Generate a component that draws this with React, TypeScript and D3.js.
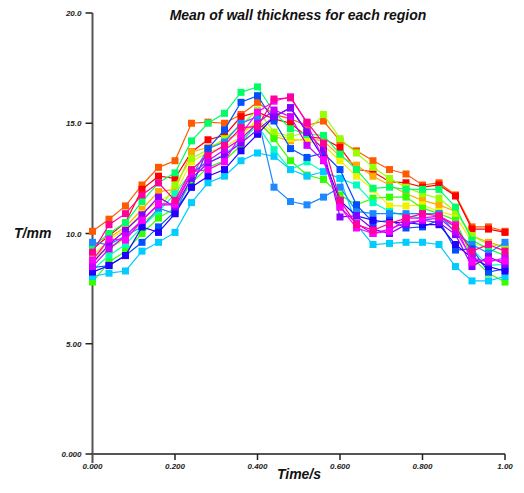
import React from "react";
import * as d3 from "d3";

const times: number[] = [0, 0.04, 0.08, 0.12, 0.16, 0.2, 0.24, 0.28, 0.32, 0.36, 0.4, 0.44, 0.48, 0.52, 0.56, 0.6, 0.64, 0.68, 0.72, 0.76, 0.8, 0.84, 0.88, 0.92, 0.96, 1.0];

const regionNames: string[] = ["R1","R2","R3","R4","R5","R6","R7","R8","R9","R10","R11","R12","R13","R14","R15","R16"];
const regionColors: string[] = ["#ff5a00","#ff0000","#ffaa00","#f0f000","#99ff00","#33ff00","#00ff66","#00ffbb","#00ccff","#1e88ff","#0050ff","#2200ff","#8800ff","#cc00ff","#ff00ff","#ff0099"];

const r1 = [10.1, 10.65, 11.25, 12.2, 13.0, 13.3, 15.0, 15.05, 15.0, 15.4, 15.95, 15.4, 15.2, 14.9, 15.1, 14.2, 13.75, 13.3, 12.9, 12.7, 12.2, 12.3, 11.75, 10.3, 10.3, 10.1];
const r2 = [9.3, 9.9, 10.5, 12.0, 12.6, 12.5, 13.7, 14.25, 14.45, 15.3, 15.5, 15.2, 15.0, 14.4, 14.3, 13.9, 12.9, 12.8, 12.35, 12.3, 12.1, 12.2, 11.7, 10.2, 10.2, 10.05];
const r3 = [8.6, 9.8, 10.3, 11.1, 11.9, 12.0, 13.7, 13.9, 14.2, 14.6, 15.0, 14.4, 14.2, 14.3, 14.2, 13.5, 13.1, 12.6, 12.2, 11.8, 11.5, 11.3, 11.0, 9.9, 9.6, 9.4];
const r4 = [9.0, 9.7, 10.2, 10.9, 11.5, 11.8, 13.25, 13.7, 13.9, 14.4, 15.2, 14.5, 14.3, 14.2, 14.0, 13.3, 12.6, 12.0, 11.25, 11.25, 11.3, 11.0, 10.8, 9.6, 9.3, 9.0];
const r5 = [8.9, 9.3, 9.8, 10.5, 11.0, 12.2, 13.4, 13.8, 14.3, 14.9, 15.6, 14.6, 14.4, 14.6, 15.4, 14.3, 13.65, 13.0, 12.5, 12.1, 11.8, 11.6, 11.0, 9.9, 9.5, 9.4];
const r6 = [7.8, 8.7, 9.2, 10.0, 10.7, 11.15, 12.3, 13.0, 13.3, 14.0, 15.15, 14.3, 13.3, 12.65, 12.45, 11.75, 11.3, 11.6, 11.65, 11.65, 11.15, 10.9, 10.6, 8.9, 8.2, 7.8];
const r7 = [9.4, 10.0, 10.5, 11.45, 12.3, 12.75, 14.2, 15.0, 15.45, 16.4, 16.65, 15.5, 14.75, 14.5, 14.45, 13.6, 12.9, 12.05, 12.1, 12.0, 12.0, 12.0, 11.2, 9.7, 9.3, 9.0];
const r8 = [8.35, 9.0, 9.5, 10.3, 11.0, 11.8, 12.8, 13.2, 13.6, 14.2, 14.9, 13.8, 12.9, 13.25, 12.8, 12.5, 12.2, 11.4, 11.0, 10.8, 10.7, 10.7, 10.3, 9.3, 8.55, 8.6];
const r9 = [8.05, 8.2, 8.3, 9.2, 9.6, 10.05, 11.4, 12.3, 12.6, 13.3, 13.65, 13.5, 12.9, 12.6, 12.8, 12.5, 10.4, 9.5, 9.55, 9.6, 9.6, 9.5, 8.5, 7.85, 7.85, 8.05];
const r10 = [9.6, 9.5, 9.9, 10.3, 11.15, 10.9, 12.6, 13.85, 14.15, 15.0, 15.3, 12.1, 11.45, 11.3, 11.65, 12.1, 11.0, 10.9, 10.9, 10.9, 10.9, 10.9, 10.0, 9.5, 9.1, 9.6];
const r11 = [8.45, 8.55, 9.0, 9.6, 10.3, 11.0, 12.1, 13.85, 14.7, 15.95, 16.25, 15.1, 13.85, 13.45, 13.65, 12.9, 11.3, 10.5, 10.6, 10.25, 10.3, 10.6, 9.25, 9.3, 8.25, 8.4];
const r12 = [8.25, 8.55, 9.0, 10.3, 10.05, 10.9, 12.1, 12.6, 12.9, 13.75, 14.5, 15.3, 15.7, 14.6, 13.4, 11.5, 10.8, 10.6, 10.5, 10.5, 10.4, 10.4, 9.5, 8.9, 8.5, 8.3];
const r13 = [8.65, 9.5, 10.15, 10.85, 11.65, 11.2, 12.5, 13.2, 13.55, 14.1, 14.7, 15.3, 15.7, 14.6, 13.8, 10.75, 10.8, 10.2, 10.0, 10.4, 10.6, 10.5, 9.95, 8.5, 8.95, 8.6];
const r14 = [8.5, 9.3, 9.9, 10.6, 11.3, 11.3, 12.7, 13.3, 13.8, 14.3, 15.0, 15.6, 15.3, 14.0, 13.3, 11.2, 10.45, 10.0, 10.2, 10.5, 10.6, 10.7, 10.1, 8.9, 8.7, 8.9];
const r15 = [8.8, 9.75, 9.7, 10.6, 11.35, 11.35, 12.8, 12.9, 13.25, 14.5, 15.5, 16.0, 16.2, 15.0, 13.35, 11.2, 10.25, 10.0, 10.1, 10.7, 10.7, 10.8, 10.4, 8.7, 8.8, 8.75];
const r16 = [9.15, 10.4, 10.9, 11.75, 12.3, 11.5, 12.9, 13.55, 14.0, 14.8, 14.85, 16.1, 16.15, 15.05, 14.1, 11.5, 10.4, 10.15, 10.45, 10.7, 10.9, 10.8, 10.3, 9.2, 9.5, 9.2];

const seriesValues: number[][] = [r1, r2, r3, r4, r5, r6, r7, r8, r9, r10, r11, r12, r13, r14, r15, r16];

const yTicks: number[] = [0, 5, 10, 15, 20];
const yTickLabels: string[] = ["0.000", "5.00", "10.0", "15.0", "20.0"];
const xTicks: number[] = [0, 0.2, 0.4, 0.6, 0.8, 1.0];
const xTickLabels: string[] = ["0.000", "0.200", "0.400", "0.600", "0.800", "1.00"];

const W = 524;
const H = 493;
const left = 92.5;
const right = 505;
const top = 13;
const bottom = 454;
const FONT = "'Liberation Sans', Arial, sans-serif";

export default function App() {
  const x = d3.scaleLinear().domain([0, 1]).range([left, right]);
  const y = d3.scaleLinear().domain([0, 20]).range([bottom, top]);
  const line = d3
    .line<[number, number]>()
    .x((d) => x(d[0]))
    .y((d) => y(d[1]));
  const ms = 7;
  const axisColor = "#555";

  return (
    <svg
      width={W}
      height={H}
      style={{ position: "absolute", left: 0, top: 0, background: "#fff" }}
    >
      <rect x={0} y={0} width={W} height={H} fill="#fff" />
      <text
        x={298}
        y={20}
        textAnchor="middle"
        fontFamily={FONT}
        fontStyle="italic"
        fontWeight={600}
        fontSize={14}
        fill="#111"
      >
        Mean of wall thickness for each region
      </text>

      {/* y axis */}
      <line x1={left} x2={left} y1={top} y2={bottom + 9} stroke={axisColor} strokeWidth={2} />
      {yTicks.map((t, i) => (
        <g key={"yt" + i}>
          <line x1={left - 7} x2={left} y1={y(t)} y2={y(t)} stroke="#222" strokeWidth={1.5} />
          <text
            x={left - 11}
            y={y(t) + 3}
            textAnchor="end"
            fontFamily={FONT}
            fontStyle="italic"
            fontWeight={700}
            fontSize={8}
            fill="#222"
          >
            {yTickLabels[i]}
          </text>
        </g>
      ))}

      {/* x axis */}
      <line x1={left} x2={right} y1={bottom} y2={bottom} stroke={axisColor} strokeWidth={2} />
      {xTicks.map((t, i) => (
        <g key={"xt" + i}>
          {i > 0 && (
            <line x1={x(t)} x2={x(t)} y1={bottom} y2={bottom + 6} stroke="#222" strokeWidth={1.5} />
          )}
          <text
            x={x(t)}
            y={bottom + 15}
            textAnchor="middle"
            fontFamily={FONT}
            fontStyle="italic"
            fontWeight={700}
            fontSize={8}
            fill="#222"
          >
            {xTickLabels[i]}
          </text>
        </g>
      ))}

      <text
        x={14}
        y={238}
        fontFamily={FONT}
        fontStyle="italic"
        fontWeight={600}
        fontSize={14}
        fill="#111"
      >
        T/mm
      </text>
      <text
        x={299}
        y={479}
        textAnchor="middle"
        fontFamily={FONT}
        fontStyle="italic"
        fontWeight={600}
        fontSize={14}
        fill="#111"
      >
        Time/s
      </text>

      {seriesValues.map((vals, si) => {
        const pts: [number, number][] = times.map((t, k) => [t, vals[k]]);
        return (
          <g key={regionNames[si]}>
            <path d={line(pts) || ""} fill="none" stroke={regionColors[si]} strokeWidth={1.2} />
            {pts.map((p, k) => (
              <rect
                key={k}
                x={x(p[0]) - ms / 2}
                y={y(p[1]) - ms / 2}
                width={ms}
                height={ms}
                fill={regionColors[si]}
              />
            ))}
          </g>
        );
      })}
    </svg>
  );
}
